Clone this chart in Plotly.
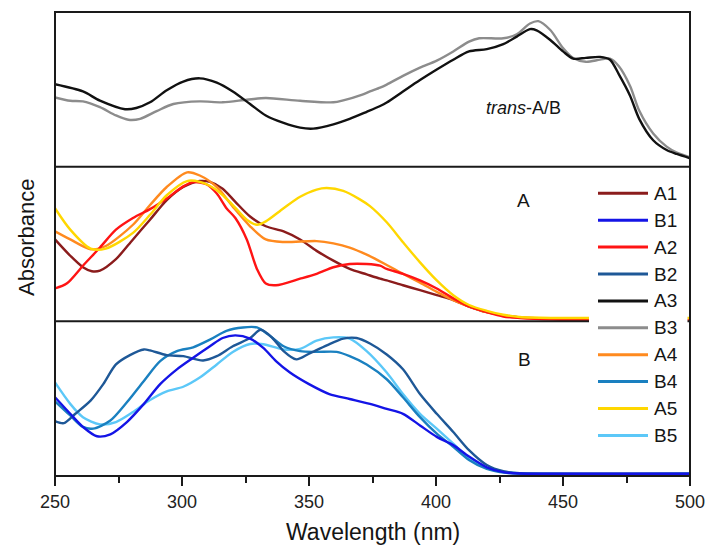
import plotly.graph_objects as go
from plotly.subplots import make_subplots

# ---- spectra (normalised absorbance within each panel) ----
# trans isomers (top panel)
wl_A3 = [250, 261, 267.7, 277.6, 282, 287.4, 294, 300.5, 307, 313.7, 320, 326.8, 333, 340, 346.5,
         351.7, 359.6, 366, 372.7, 378, 380.6, 387, 393.7, 400.3, 406.8, 413, 420, 426.5, 431.8,
         437, 439.6, 445, 450, 454, 459, 464.6, 468.5, 472, 476.4, 480, 485.5, 490.8, 494.8, 500]
abs_A3 = [0.527, 0.48, 0.42, 0.364, 0.372, 0.409, 0.488, 0.545, 0.566, 0.538, 0.48, 0.398, 0.323,
          0.274, 0.243, 0.237, 0.265, 0.301, 0.347, 0.385, 0.408, 0.48, 0.555, 0.624, 0.688, 0.742,
          0.757, 0.79, 0.839, 0.888, 0.88, 0.817, 0.742, 0.695, 0.70, 0.706, 0.688, 0.592, 0.452,
          0.301, 0.161, 0.097, 0.071, 0.043]

wl_B3 = [250, 256, 261, 267.7, 274, 278.9, 283.5, 290, 296.6, 307, 316, 325.5, 333, 346.5, 359.6,
         363.5, 371, 374, 378, 380.6, 387, 393.7, 400.3, 406.8, 413, 417, 426.5, 431.8, 437, 440.3,
         445, 450, 454, 459, 464.6, 468.5, 472, 476.4, 480, 485.5, 490.8, 494.8, 500]
abs_B3 = [0.441, 0.419, 0.415, 0.377, 0.323, 0.295, 0.301, 0.351, 0.398, 0.415, 0.409, 0.426, 0.437,
          0.419, 0.409, 0.422, 0.46, 0.48, 0.505, 0.525, 0.582, 0.636, 0.682, 0.742, 0.806, 0.828,
          0.828, 0.854, 0.925, 0.94, 0.882, 0.764, 0.699, 0.674, 0.688, 0.695, 0.645, 0.516, 0.355,
          0.205, 0.119, 0.08, 0.05]

# series A (middle panel)
wl_A1 = [250, 256, 261, 264.5, 267.7, 274, 280.7, 287.4, 294, 300.5, 307, 311, 316, 321, 326.8, 333,
         340, 346.5, 353, 359.6, 366, 372.7, 378, 380.6, 387, 393.7, 400.3, 406.8, 413, 420, 426.5,
         433, 446, 460, 500]
abs_A1 = [0.524, 0.417, 0.342, 0.316, 0.320, 0.395, 0.524, 0.653, 0.781, 0.867, 0.906, 0.90, 0.856,
          0.770, 0.674, 0.610, 0.577, 0.524, 0.449, 0.385, 0.331, 0.295, 0.267, 0.256, 0.224, 0.192,
          0.159, 0.127, 0.085, 0.048, 0.027, 0.014, 0.006, 0.002, 0.002]

wl_A2 = [250, 254.6, 261, 267.7, 274, 280.7, 287.4, 294, 300.5, 304.4, 309.6, 313.7, 317.5, 321,
         325.5, 329.5, 333, 337, 346.5, 353, 359.6, 366, 372.7, 378, 380.6, 387, 393.7, 400.3, 406.8,
         413, 420, 426.5, 433, 446, 460, 500]
abs_A2 = [0.203, 0.235, 0.352, 0.471, 0.588, 0.664, 0.722, 0.792, 0.871, 0.899, 0.885, 0.824, 0.728,
          0.664, 0.524, 0.331, 0.235, 0.224, 0.267, 0.299, 0.342, 0.363, 0.363, 0.352, 0.331, 0.299,
          0.256, 0.203, 0.138, 0.085, 0.048, 0.02, 0.01, 0.0, -0.004, -0.004]

wl_A4 = [250, 256, 264, 270, 280.7, 287.4, 294, 302, 307, 313.7, 320, 326.8, 333, 340, 353, 359.6,
         366, 372.7, 380.6, 387, 393.7, 400.3, 406.8, 413, 420, 426.5, 433, 446, 460, 500]
abs_A4 = [0.577, 0.524, 0.46, 0.481, 0.62, 0.749, 0.867, 0.963, 0.942, 0.867, 0.738, 0.61, 0.524,
          0.507, 0.513, 0.498, 0.471, 0.425, 0.357, 0.299, 0.241, 0.181, 0.127, 0.085, 0.048, 0.027,
          0.014, 0.008, 0.006, 0.006]

wl_A5 = [250, 256, 264, 270, 280.7, 287.4, 294, 302, 307, 313.7, 320, 325.5, 329.5, 333, 340, 346.5,
         353, 357, 363.5, 370, 374, 380.6, 387, 393.7, 400.3, 406.8, 413, 420, 426.5, 433, 446, 460, 500]
abs_A5 = [0.728, 0.588, 0.464, 0.464, 0.567, 0.685, 0.813, 0.906, 0.90, 0.846, 0.749, 0.653, 0.62,
          0.642, 0.728, 0.803, 0.85, 0.86, 0.841, 0.786, 0.742, 0.636, 0.506, 0.374, 0.256, 0.159,
          0.095, 0.057, 0.031, 0.016, 0.01, 0.01, 0.01]

# series B (bottom panel)
wl_B1 = [250, 256, 261, 266.5, 271.8, 278.3, 285, 291.4, 298, 304.4, 311, 316, 321, 326.8, 332, 337,
         342.5, 350, 358, 366, 374, 380.6, 387, 393.7, 400.3, 406.8, 413, 420, 426.5, 433, 450, 500]
abs_B1 = [0.503, 0.395, 0.309, 0.248, 0.261, 0.341, 0.46, 0.589, 0.686, 0.762, 0.837, 0.891, 0.908,
          0.887, 0.826, 0.74, 0.665, 0.589, 0.524, 0.492, 0.46, 0.427, 0.395, 0.319, 0.244, 0.19,
          0.115, 0.045, 0.013, 0.004, 0.003, 0.003]

wl_B2 = [250, 253.5, 258, 264, 269, 274, 279.5, 285, 287.4, 294, 300.5, 308.3, 313.7, 320, 326.8,
         331, 335.6, 340, 345, 350, 357, 363.5, 368.7, 374, 380.6, 387, 393.7, 400.3, 406.8, 413,
         420, 426.5, 433, 450, 500]
abs_B2 = [0.347, 0.334, 0.395, 0.481, 0.589, 0.718, 0.779, 0.816, 0.81, 0.779, 0.772, 0.744, 0.772,
          0.837, 0.891, 0.945, 0.891, 0.805, 0.751, 0.788, 0.843, 0.887, 0.891, 0.855, 0.783, 0.686,
          0.524, 0.395, 0.276, 0.157, 0.06, 0.019, 0.006, 0.003, 0.003]

wl_B4 = [250, 256, 261, 265, 271.8, 278.3, 285, 291.4, 298, 304.4, 311, 317.5, 324, 329.5, 334, 340,
         346.5, 353, 360.9, 366, 372.7, 380.6, 387, 393.7, 400.3, 406.8, 413, 420, 426.5, 433, 500]
abs_B4 = [0.477, 0.384, 0.309, 0.298, 0.351, 0.47, 0.61, 0.74, 0.805, 0.83, 0.88, 0.938, 0.96, 0.96,
          0.913, 0.837, 0.805, 0.80, 0.80, 0.772, 0.718, 0.621, 0.503, 0.373, 0.265, 0.179, 0.093,
          0.034, 0.01, 0.004, 0.003]

wl_B5 = [250, 256, 261, 267.7, 274, 280.7, 287.4, 294, 300.5, 307, 313.7, 320, 326.8, 332, 340, 346.5,
         353, 359.6, 366, 372.7, 380.6, 387, 393.7, 400.3, 406.8, 413, 420, 426.5, 433, 500]
abs_B5 = [0.6, 0.46, 0.373, 0.326, 0.341, 0.406, 0.485, 0.542, 0.572, 0.632, 0.718, 0.80, 0.852, 0.85,
          0.816, 0.82, 0.874, 0.895, 0.887, 0.805, 0.665, 0.524, 0.395, 0.298, 0.2, 0.104, 0.04,
          0.015, 0.004, 0.003]

# legend order, colours and panel for each series
names = ["A1", "B1", "A2", "B2", "A3", "B3", "A4", "B4", "A5", "B5"]
colors = ["#8B1C1C", "#1414E6", "#FF1414", "#1E5897", "#111111",
          "#8C8C8C", "#FF8A1F", "#1A80C0", "#FFD700", "#5CC8F8"]
panel = {"A3": 1, "B3": 1, "A1": 2, "A2": 2, "A4": 2, "A5": 2,
         "B1": 3, "B2": 3, "B4": 3, "B5": 3}
spectra = {
    "A1": (wl_A1, abs_A1), "B1": (wl_B1, abs_B1), "A2": (wl_A2, abs_A2),
    "B2": (wl_B2, abs_B2), "A3": (wl_A3, abs_A3), "B3": (wl_B3, abs_B3),
    "A4": (wl_A4, abs_A4), "B4": (wl_B4, abs_B4), "A5": (wl_A5, abs_A5),
    "B5": (wl_B5, abs_B5),
}

FONT = "Liberation Sans, Arial, sans-serif"
AX = "#1a1a1a"

fig = make_subplots(rows=3, cols=1, shared_xaxes=True, vertical_spacing=0)

# draw order inside each panel (later = on top)
draw_order = ["B3", "A3", "A1", "A4", "A2", "A5", "B5", "B4", "B2", "B1"]
for nm in draw_order:
    x, y = spectra[nm]
    fig.add_trace(
        go.Scatter(x=x, y=y, mode="lines", name=nm, showlegend=False,
                   line=dict(color=colors[names.index(nm)], width=2.4,
                             shape="spline", smoothing=0.8)),
        row=panel[nm], col=1)

for r in (1, 2, 3):
    fig.update_xaxes(range=[250, 500], showline=False, showgrid=False, zeroline=False,
                     automargin=False, row=r, col=1)
    fig.update_yaxes(range=[-0.012, 1.0], showline=False, showgrid=False, zeroline=False,
                     showticklabels=False, ticks="", automargin=False, row=r, col=1)
for r in (1, 2):
    fig.update_xaxes(showticklabels=False, ticks="", row=r, col=1)
fig.update_xaxes(ticks="outside", ticklen=9, tickwidth=1.5, tickcolor=AX, dtick=50,
                 tick0=250, showticklabels=True,
                 tickfont=dict(family=FONT, size=18, color="#222"),
                 minor=dict(dtick=25, ticks="outside", ticklen=6, tickwidth=1.5,
                            tickcolor=AX, showgrid=False),
                 row=3, col=1)

# plot area in pixels: x 55..690, y 12..476
TOP, BOT, LEFT, RIGHT = 12, 476, 55, 690
def py(p):
    return (BOT - p) / (BOT - TOP)
def px(p):
    return (p - LEFT) / (RIGHT - LEFT)

def label(text, x, y, size, **kw):
    d = dict(text=text, x=x, y=y, xref="paper", yref="paper", showarrow=False,
             xanchor="center", yanchor="middle",
             font=dict(family=FONT, size=size, color="#151515"))
    d.update(kw)
    return d

annotations = [
    label("<i>trans</i>-A/B", px(523), py(108), 18),
    label("A", px(523), py(200), 19),
    label("B", px(524), py(359), 19),
    label("Wavelength (nm)", 0.5, py(532), 23),
    label("Absorbance", px(27), py(238), 22, textangle=-90),
]

frame = dict(color=AX, width=2)
shapes = [
    # panel frame and dividers
    dict(type="rect", xref="paper", yref="paper", layer="above",
         x0=0, x1=1, y0=0, y1=1, line=frame, fillcolor="rgba(0,0,0,0)"),
    dict(type="line", xref="paper", yref="paper", layer="above",
         x0=0, x1=1, y0=2 / 3, y1=2 / 3, line=frame),
    dict(type="line", xref="paper", yref="paper", layer="above",
         x0=0, x1=1, y0=1 / 3, y1=1 / 3, line=frame),
    # legend box over the right side of the lower panels
    dict(type="rect", xref="paper", yref="paper", layer="above",
         x0=px(589), x1=px(687.5), y0=py(462), y1=py(168),
         fillcolor="white", line=dict(width=0)),
]
for i, (nm, c) in enumerate(zip(names, colors)):
    yy = py(193.3 + 26.9 * i)
    shapes.append(dict(type="line", xref="paper", yref="paper", layer="above",
                       x0=px(598), x1=px(648), y0=yy, y1=yy,
                       line=dict(color=c, width=3)))
    annotations.append(label(nm, px(652), yy, 19, xanchor="left"))

fig.update_layout(
    template="none",
    width=707, height=547,
    margin=dict(l=LEFT, r=707 - RIGHT, t=TOP, b=547 - BOT, autoexpand=False),
    paper_bgcolor="white", plot_bgcolor="white",
    showlegend=False,
    annotations=annotations, shapes=shapes,
    font=dict(family=FONT),
)

fig.write_html("out.html")
